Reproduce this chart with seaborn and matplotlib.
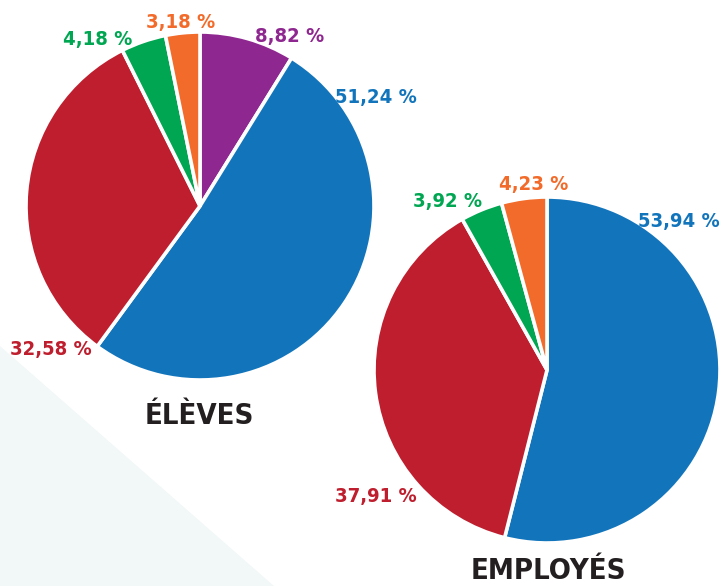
import seaborn as sns
import matplotlib.pyplot as plt
from matplotlib.patches import Polygon

# Data
eleves_labels = ['8,82 %', '51,24 %', '32,58 %', '4,18 %', '3,18 %']
eleves_values = [8.82, 51.24, 32.58, 4.18, 3.18]
employes_labels = ['53,94 %', '37,91 %', '3,92 %', '4,23 %']
employes_values = [53.94, 37.91, 3.92, 4.23]

blue, red, green, orange, purple = '#1275bc', '#be1e2d', '#00a651', '#f26b2a', '#8e278f'
eleves_colors = [purple, blue, red, green, orange]
employes_colors = [blue, red, green, orange]

sns.set_theme(style='white')
plt.rcParams['font.family'] = ['DejaVu Sans Condensed', 'DejaVu Sans']

W, H = 721, 586
fig = plt.figure(figsize=(W / 100, H / 100), dpi=100)
ax = fig.add_axes([0, 0, 1, 1])
ax.set_xlim(0, W)
ax.set_ylim(0, H)
ax.set_aspect('equal')
ax.axis('off')

# light background triangle lower left
ax.add_patch(Polygon([[0, H - 346], [0, 0], [274, 0]], closed=True,
                     facecolor='#f2f7f7', edgecolor='none', zorder=0))

def draw_pie(values, colors, labels, center, radius, label_pos, title, title_pos):
    cx, cy = center
    ax.pie(values, colors=colors, startangle=90, counterclock=False,
           center=(cx, H - cy), radius=radius, frame=True,
           wedgeprops=dict(edgecolor='white', linewidth=2.6))
    for lab, col, (x, y, ha) in zip(labels, colors, label_pos):
        ax.text(x, H - y, lab, color=col, fontsize=14.5, fontweight='bold',
                fontstretch='condensed', ha=ha, va='baseline')
    ax.text(title_pos[0], H - title_pos[1], title, color='#231f20', fontsize=21,
            fontweight='heavy', fontstretch='condensed', ha='center', va='baseline')

draw_pie(eleves_values, eleves_colors, eleves_labels, (200, 206), 174,
         [(290, 42, 'center'), (376, 103, 'center'), (10, 355, 'left'),
          (98, 45, 'center'), (181, 28, 'center')],
         'ÉLÈVES', (199, 424))
draw_pie(employes_values, employes_colors, employes_labels, (547, 370), 173,
         [(720, 227, 'right'), (376, 502, 'center'), (448, 207, 'center'),
          (534, 190, 'center')],
         'EMPLOYÉS', (548, 579))

ax.set_xlim(0, W)
ax.set_ylim(0, H)
ax.axis('off')

fig.savefig('out.png', dpi=100)
